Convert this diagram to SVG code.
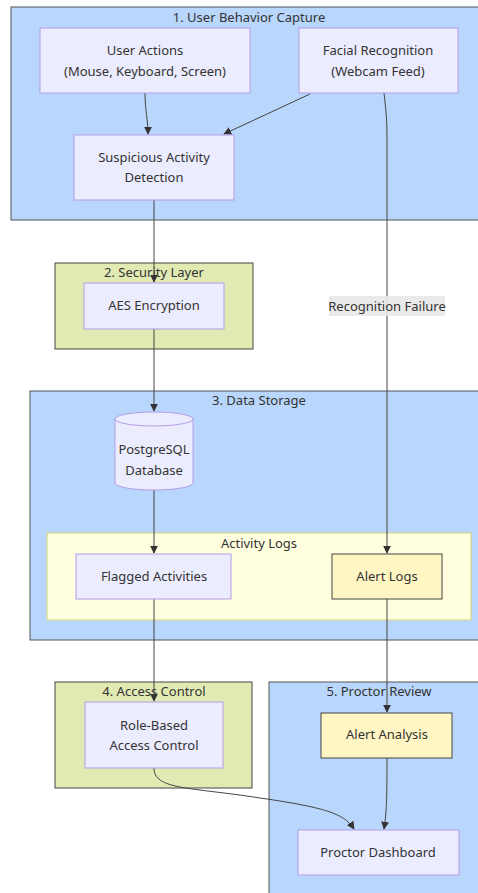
<svg xmlns="http://www.w3.org/2000/svg" width="478" height="893" viewBox="0 0 478 893">
<defs>
<style>
text{font-family:"Noto Sans","DejaVu Sans",sans-serif;font-size:13px;fill:#333;text-anchor:middle;dominant-baseline:central}
.cb{fill:#b9d6fc;stroke:#555;stroke-width:1}
.cg{fill:#e2eab4;stroke:#444;stroke-width:1}
.cy{fill:#fffedf;stroke:#d6d67a;stroke-width:1}
.n{fill:#ececff;stroke:#b39ce8;stroke-width:1}
.ny{fill:#fff6c3;stroke:#444;stroke-width:1}
.e{fill:none;stroke:#444;stroke-width:1}
</style>
<marker id="ah" viewBox="0 0 10 10" refX="9" refY="5" markerWidth="8" markerHeight="8" orient="auto-start-reverse" markerUnits="userSpaceOnUse"><path d="M0,0 L10,5 L0,10 z" fill="#333"/></marker>
</defs>
<rect width="478" height="893" fill="#fff"/>
<g id="cluster1"><rect class="cb" x="11" y="7" width="470" height="213"/><text x="249" y="17">1. User Behavior Capture</text></g>
<g id="cluster2"><rect class="cg" x="55" y="263" width="198" height="86"/><text x="154" y="272">2. Security Layer</text></g>
<g id="cluster3"><rect class="cb" x="30" y="391" width="451" height="249"/><text x="259" y="400">3. Data Storage</text></g>
<g id="clusterLogs"><rect class="cy" x="47" y="533" width="424" height="87"/><text x="259" y="543">Activity Logs</text></g>
<g id="cluster4"><rect class="cg" x="55" y="682" width="197" height="106"/><text x="154" y="691">4. Access Control</text></g>
<g id="cluster5"><rect class="cb" x="269" y="682" width="212" height="215"/><text x="379" y="691">5. Proctor Review</text></g>
<g id="edges">
<path class="e" d="M145,93 C145,110 148,120 148,134" marker-end="url(#ah)"/>
<path class="e" d="M310,94 L224,134" marker-end="url(#ah)"/>
<path class="e" d="M384,93 C386,110 387,120 387,140 L387,553" marker-end="url(#ah)"/>
<path class="e" d="M154,200 L154,282" marker-end="url(#ah)"/>
<path class="e" d="M154,329 L154,411" marker-end="url(#ah)"/>
<path class="e" d="M154,490 L154,553" marker-end="url(#ah)"/>
<path class="e" d="M154,599 L154,701" marker-end="url(#ah)"/>
<path class="e" d="M387,599 L387,712" marker-end="url(#ah)"/>
<path class="e" d="M387,758 C387,790 387,810 384,829" marker-end="url(#ah)"/>
<path class="e" d="M154,768 C154,790 190,787 260,798 C330,808 345,815 354,829" marker-end="url(#ah)"/>
<rect x="329" y="296" width="116" height="20" fill="#e8e8e8" opacity="0.9"/>
<text x="387" y="305.5">Recognition Failure</text>
</g>
<g id="userActions"><rect class="n" x="40" y="28" width="210" height="65"/><text x="145" y="50">User Actions</text><text x="145" y="71">(Mouse, Keyboard, Screen)</text></g>
<g id="facial"><rect class="n" x="299" y="28" width="159" height="65"/><text x="378" y="50">Facial Recognition</text><text x="378" y="71">(Webcam Feed)</text></g>
<g id="suspicious"><rect class="n" x="74" y="135" width="160" height="65"/><text x="154" y="157">Suspicious Activity</text><text x="154" y="177">Detection</text></g>
<g id="aes"><rect class="n" x="84" y="283" width="140" height="46"/><text x="154" y="305">AES Encryption</text></g>
<g id="db"><path class="n" d="M115,419 A39,7 0 0 1 193,419 L193,483 A39,7 0 0 1 115,483 Z"/><path class="n" d="M115,419 A39,7 0 0 0 193,419" fill="none"/><text x="154" y="449">PostgreSQL</text><text x="154" y="470">Database</text></g>
<g id="flagged"><rect class="n" x="76" y="554" width="155" height="45"/><text x="154" y="576">Flagged Activities</text></g>
<g id="alertLogs"><rect class="ny" x="332" y="554" width="110" height="45"/><text x="387" y="576">Alert Logs</text></g>
<g id="rbac"><rect class="n" x="85" y="702" width="138" height="66"/><text x="154" y="725">Role-Based</text><text x="154" y="745">Access Control</text></g>
<g id="alertAnalysis"><rect class="ny" x="321" y="713" width="131" height="45"/><text x="387" y="734">Alert Analysis</text></g>
<g id="dashboard"><rect class="n" x="298" y="830" width="161" height="45"/><text x="378" y="852">Proctor Dashboard</text></g>
</svg>
